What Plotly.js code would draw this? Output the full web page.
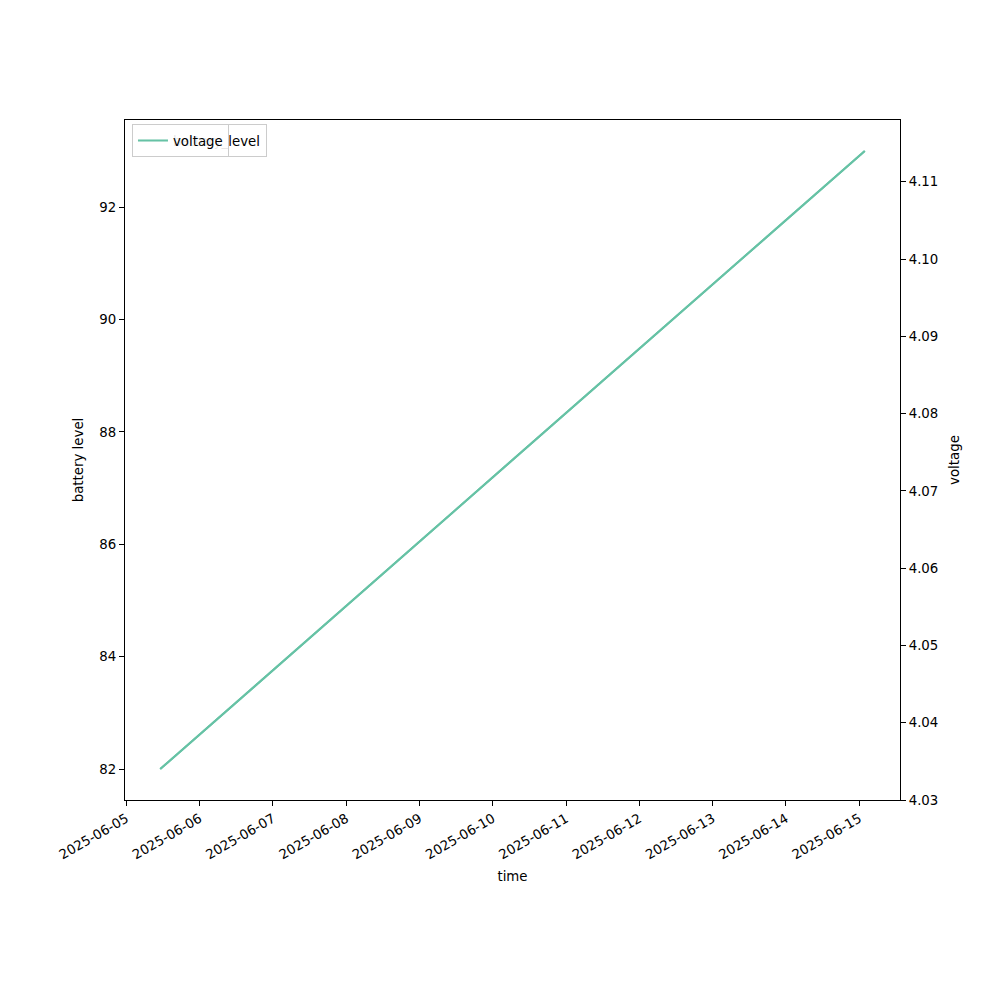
<!DOCTYPE html>
<html>
<head>
<meta charset="utf-8">
<script src="https://cdn.plot.ly/plotly-3.0.1.min.js"></script>
<style>html,body{margin:0;padding:0;background:#fff;}#chart{width:1000px;height:1000px;}</style>
</head>
<body>
<div id="chart"></div>
<script>
const times = ['2025-06-05 11:06', '2025-06-15 01:48'];
const batteryLevel = [82, 93];
const voltage = [4.034, 4.114];
const xRange = ['2025-06-04 23:34', '2025-06-15 13:20'];
const lineColor = '#66c2a5';
const font = {family: 'DejaVu Sans, sans-serif', size: 13.33, color: '#000'};

const traces = [
  {x: times, y: batteryLevel, type: 'scatter', mode: 'lines', name: 'battery_level',
   line: {color: lineColor, width: 2}, yaxis: 'y', legend: 'legend'},
  {x: times, y: voltage, type: 'scatter', mode: 'lines', name: 'voltage',
   line: {color: lineColor, width: 2}, yaxis: 'y2', legend: 'legend2'}
];

const legendBase = {x: 0.009, y: 0.9935, xanchor: 'left', yanchor: 'top',
  bgcolor: 'rgba(255,255,255,0.9)', bordercolor: '#cccccc', borderwidth: 1,
  font: font, itemwidth: 30, tracegroupgap: 0};

const layout = {
  width: 1000, height: 1000,
  paper_bgcolor: '#fff', plot_bgcolor: '#fff',
  font: font,
  margin: {l: 125, r: 100, t: 120, b: 200, pad: 0},
  showlegend: true,
  legend: Object.assign({}, legendBase),
  legend2: Object.assign({}, legendBase),
  xaxis: {
    type: 'date', range: xRange, tick0: '2025-06-05', dtick: 86400000,
    tickformat: '%Y-%m-%d', tickangle: -30,
    showgrid: false, zeroline: false, showline: true, linecolor: '#000', linewidth: 1,
    mirror: true, ticks: 'outside', ticklen: 5, tickcolor: '#000', tickfont: font,
    title: {text: 'time', font: font, standoff: 10}
  },
  yaxis: {
    range: [81.45, 93.55], tick0: 82, dtick: 2,
    showgrid: false, zeroline: false, showline: true, linecolor: '#000', linewidth: 1,
    ticks: 'outside', ticklen: 5, tickcolor: '#000', tickfont: font,
    title: {text: 'battery level', font: font, standoff: 12}
  },
  yaxis2: {
    overlaying: 'y', side: 'right', range: [4.03, 4.118], tick0: 4.03, dtick: 0.01,
    tickformat: '.2f',
    showgrid: false, zeroline: false, showline: true, linecolor: '#000', linewidth: 1,
    ticks: 'outside', ticklen: 5, tickcolor: '#000', tickfont: font,
    title: {text: 'voltage', font: font, standoff: 12}
  }
};

Plotly.newPlot('chart', traces, layout, {displayModeBar: false, staticPlot: true});
</script>
</body>
</html>
